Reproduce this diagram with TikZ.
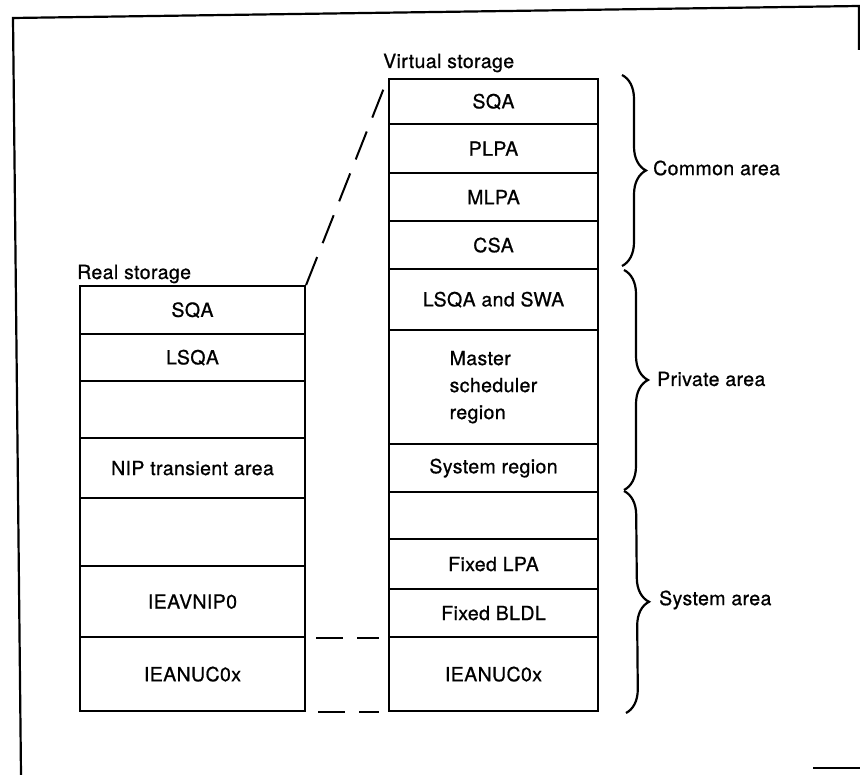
\documentclass[tikz,border=0pt]{standalone}
\usepackage{fontspec}
\setmainfont{TeX Gyre Heros}[LetterSpace=2,FakeBold=0.8]
\usetikzlibrary{decorations.pathreplacing}
\begin{document}
\begin{tikzpicture}[x=1pt,y=-1pt,
  every node/.style={font=\fontsize{19.5}{27}\selectfont},
  realcell/.style={draw, line width=2.2pt, minimum width=225pt, inner sep=0pt, anchor=north},
  virtcell/.style={draw, line width=2.2pt, minimum width=209pt, inner sep=0pt, anchor=north},
  frameline/.style={line width=2.2pt},
  dashline/.style={line width=2pt, dash pattern=on 27pt off 14pt},
  slantdash/.style={line width=2pt, dash pattern=on 30pt off 15pt},
  bracestyle/.style={line width=2.2pt, decorate, decoration={brace, amplitude=24pt}},
  lbl/.style={anchor=west, inner sep=0pt}]
\useasboundingbox (0,0) rectangle (860,775);
% outer frame (as scanned)
\draw[frameline] (21,775) -- (13,18) -- (859,6) -- (859,50);
\draw[frameline] (813,768) -- (860,768);
% real storage
\node[anchor=base west, inner sep=0pt] (rtitle) at (77,279) {Real storage};
\node[realcell, minimum height=48pt] (r1) at (192.5,285) {SQA};
\node[realcell, minimum height=47pt] (r2) at (192.5,333) {LSQA};
\node[realcell, minimum height=57pt] (r3) at (192.5,380) {};
\node[realcell, minimum height=60pt] (r4) at (192.5,437) {NIP transient area};
\node[realcell, minimum height=68pt] (r5) at (192.5,497) {};
\node[realcell, minimum height=71pt] (r6) at (192.5,565) {IEAVNIP0};
\node[realcell, minimum height=74pt] (r7) at (192.5,636) {IEANUC0x};
% virtual storage
\node[anchor=base west, inner sep=0pt] (vtitle) at (383,68) {Virtual storage};
\node[virtcell, minimum height=45pt] (v1) at (493.5,78) {SQA};
\node[virtcell, minimum height=49pt] (v2) at (493.5,123) {PLPA};
\node[virtcell, minimum height=48pt] (v3) at (493.5,172) {MLPA};
\node[virtcell, minimum height=48pt] (v4) at (493.5,220) {CSA};
\node[virtcell, minimum height=61pt] (v5) at (493.5,268) {LSQA and SWA};
\node[virtcell, minimum height=114pt, align=left] (v6) at (493.5,329) {Master\\scheduler\\region};
\node[virtcell, minimum height=48pt] (v7) at (493.5,443) {System region};
\node[virtcell, minimum height=47pt] (v8) at (493.5,491) {};
\node[virtcell, minimum height=50pt] (v9) at (493.5,538) {Fixed LPA};
\node[virtcell, minimum height=48pt] (v10) at (493.5,588) {Fixed BLDL};
\node[virtcell, minimum height=74pt] (v11) at (493.5,636) {IEANUC0x};
% dashed mapping lines
\draw[slantdash, shorten >=12pt] (r1.north east) -- (v1.north west);
\draw[dashline, shorten <=10pt, shorten >=9pt] (r6.south east) -- (v10.south west);
\draw[dashline, shorten <=12pt, shorten >=9pt] (r7.south east) -- (v11.south west);
% braces
\coordinate (b1) at (622,75);
\coordinate (b2) at (622,266);
\coordinate (b3) at (624,270);
\coordinate (b4) at (624,490);
\coordinate (b5) at (624,491);
\coordinate (b6) at (626,713);
\draw[bracestyle] (b1) -- (b2);
\draw[bracestyle] (b3) -- (b4);
\draw[bracestyle] (b5) -- (b6);
\node[lbl] (common) at (653,168) {Common area};
\node[lbl] (private) at (657,379) {Private area};
\node[lbl] (system) at (659,600) {System area};
\end{tikzpicture}
\end{document}
